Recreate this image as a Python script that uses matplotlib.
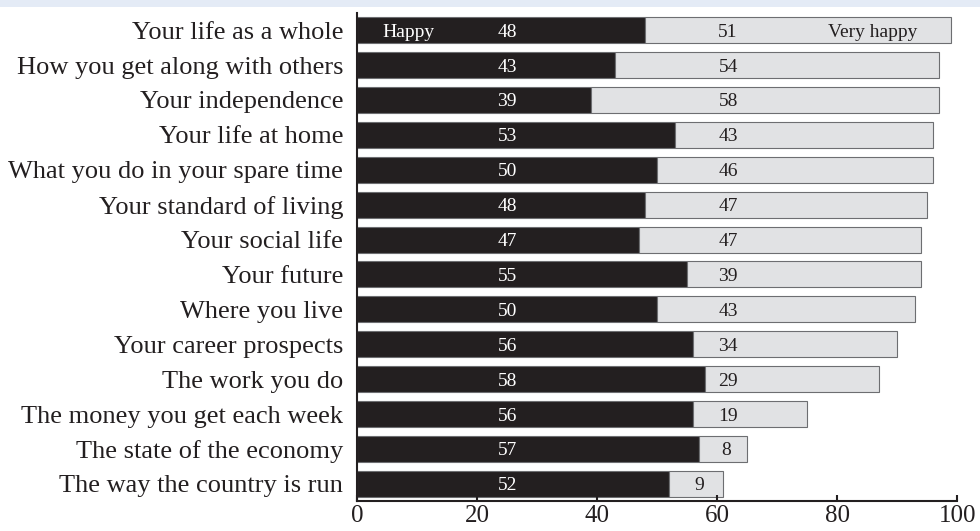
import numpy as np
import matplotlib.pyplot as plt
from matplotlib.patches import Rectangle

plt.rcParams['font.family'] = ['Liberation Serif', 'DejaVu Serif']

### Data
categories = [
    "Your life as a whole",
    "How you get along with others",
    "Your independence",
    "Your life at home",
    "What you do in your spare time",
    "Your standard of living",
    "Your social life",
    "Your future",
    "Where you live",
    "Your career prospects",
    "The work you do",
    "The money you get each week",
    "The state of the economy",
    "The way the country is run",
]
happy = [48, 43, 39, 53, 50, 48, 47, 55, 50, 56, 58, 56, 57, 52]
very_happy = [51, 54, 58, 43, 46, 47, 47, 39, 43, 34, 29, 19, 8, 9]
xticks = [0, 20, 40, 60, 80, 100]

black = '#231f20'
grey = '#e1e2e4'
edge = '#6d6e71'

fig = plt.figure(figsize=(9.8, 5.31), dpi=100)
# light blue header strip
fig.patches.append(Rectangle((0, 1 - 7 / 531), 1, 7 / 531, transform=fig.transFigure,
                             facecolor='#e4ebf6', edgecolor='none'))
ax = fig.add_axes([0.3643, 0.0565, 0.6127, 0.919])

y = np.arange(len(categories))
h = np.array(happy)
v = np.array(very_happy)

ax.barh(y, h, height=0.745, color=black, edgecolor=edge, linewidth=0.8)
ax.barh(y, v, left=h, height=0.745, color=grey, edgecolor=edge, linewidth=0.8)

for i in range(len(categories)):
    ax.text(25, i, str(h[i]), color='white', fontsize=14, ha='center', va='center_baseline')
    gx = min(61.8, h[i] + v[i] / 2 + 0.5)
    ax.text(gx, i, str(v[i]), color=black, fontsize=14, ha='center', va='center_baseline')

ax.text(8.5, 0, "Happy", color='white', fontsize=14, ha='center', va='center_baseline')
ax.text(85.8, 0, "Very happy", color=black, fontsize=14, ha='center', va='center_baseline')

ax.set_xlim(0, 100)
ax.set_ylim(len(categories) - 1 + 0.49, -0.49)
ax.set_yticks(y)
ax.set_yticklabels(categories, fontsize=19, color=black)
ax.tick_params(axis='y', length=0, pad=10)
ax.set_xticks(xticks)
ax.set_xticklabels([str(t) for t in xticks], fontsize=18, color=black)
ax.tick_params(axis='x', direction='in', length=4, width=1.5, color=black, pad=3)

for s in ['top', 'right']:
    ax.spines[s].set_visible(False)
for s in ['left', 'bottom']:
    ax.spines[s].set_linewidth(1.5)
    ax.spines[s].set_color(black)

fig.savefig('out.png', dpi=100)
